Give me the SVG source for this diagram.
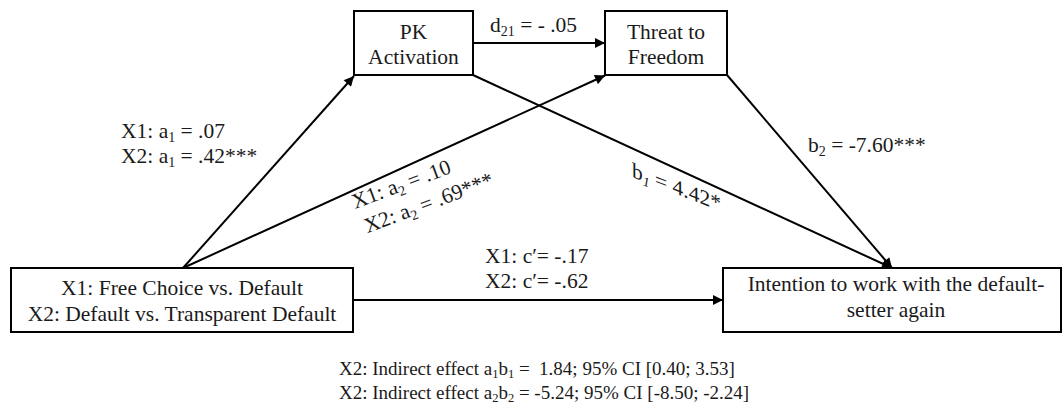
<svg xmlns="http://www.w3.org/2000/svg" width="1063" height="410" viewBox="0 0 1063 410">
  <style>
    .box { fill: #fff; stroke: #000; stroke-width: 2; }
    .edge { fill: none; stroke: #000; stroke-width: 2; }
    text { font-family: "Liberation Serif", "Times New Roman", serif; font-size: 21.5px; fill: #1a1a1a; }
    .c { text-anchor: middle; }
    .sub { font-size: 14px; }
    .note { font-size: 19px; }
    .note .sub { font-size: 12.5px; }
  </style>
  <defs>
    <marker id="arrow" viewBox="0 0 10 10" refX="10" refY="5" markerWidth="6" markerHeight="5" markerUnits="strokeWidth" orient="auto">
      <path d="M0,0 L10,5 L0,10 z" fill="#000"/>
    </marker>
  </defs>

  <!-- paths between variables -->
  <g id="connectors">
    <line class="edge" x1="183" y1="268" x2="354" y2="76" marker-end="url(#arrow)"/>
    <line class="edge" x1="183" y1="268" x2="605" y2="75.5" marker-end="url(#arrow)"/>
    <line class="edge" x1="473" y1="43" x2="605" y2="43" marker-end="url(#arrow)"/>
    <line class="edge" x1="473" y1="75" x2="892" y2="268" marker-end="url(#arrow)"/>
    <line class="edge" x1="727" y1="75" x2="892" y2="268" marker-end="url(#arrow)"/>
    <line class="edge" x1="353" y1="300" x2="723" y2="300" marker-end="url(#arrow)"/>
  </g>

  <g id="node-pk">
    <rect class="box" x="354" y="11" width="119" height="64"/>
    <text class="c" x="413.5" y="39">PK</text>
    <text class="c" x="413.5" y="64">Activation</text>
  </g>

  <g id="node-threat">
    <rect class="box" x="605" y="11" width="122" height="64"/>
    <text class="c" x="666" y="39">Threat to</text>
    <text class="c" x="666" y="64">Freedom</text>
  </g>

  <g id="node-x">
    <rect class="box" x="11" y="268" width="342" height="64"/>
    <text class="c" x="182" y="295">X1: Free Choice vs. Default</text>
    <text class="c" x="182" y="321">X2: Default vs. Transparent Default</text>
  </g>

  <g id="node-y">
    <rect class="box" x="723" y="268" width="338" height="64"/>
    <text class="c" x="896" y="291">Intention to work with the default-</text>
    <text class="c" x="896" y="317">setter again</text>
  </g>

  <g id="labels">
    <text x="490" y="32">d<tspan class="sub" dy="4">21</tspan><tspan dy="-4"> = - .05</tspan></text>

    <text x="121" y="138">X1: a<tspan class="sub" dy="4">1</tspan><tspan dy="-4"> = .07</tspan></text>
    <text x="121" y="163">X2: a<tspan class="sub" dy="4">1</tspan><tspan dy="-4"> = .42***</tspan></text>

    <g transform="translate(355,209) rotate(-20.5)">
      <text x="0" y="0">X1: a<tspan class="sub" dy="4">2</tspan><tspan dy="-4"> = .10</tspan></text>
      <text x="3" y="27">X2: a<tspan class="sub" dy="4">2</tspan><tspan dy="-4"> = .69***</tspan></text>
    </g>

    <g transform="translate(632,177) skewY(21)">
      <text x="0" y="0">b<tspan class="sub" dy="4" font-style="italic">1</tspan><tspan dy="-4"> = 4.42*</tspan></text>
    </g>

    <text x="808" y="152">b<tspan class="sub" dy="4">2</tspan><tspan dy="-4"> = -7.60***</tspan></text>

    <text x="485" y="263">X1: c′= -.17</text>
    <text x="485" y="288">X2: c′= -.62</text>

    <text class="note" x="339" y="375">X2: Indirect effect a<tspan class="sub" dy="3">1</tspan><tspan dy="-3">b</tspan><tspan class="sub" dy="3">1</tspan><tspan dy="-3"> = &#160;1.84; 95% CI [0.40; 3.53]</tspan></text>
    <text class="note" x="339" y="399">X2: Indirect effect a<tspan class="sub" dy="3">2</tspan><tspan dy="-3">b</tspan><tspan class="sub" dy="3">2</tspan><tspan dy="-3"> = -5.24; 95% CI [-8.50; -2.24]</tspan></text>
  </g>
</svg>
